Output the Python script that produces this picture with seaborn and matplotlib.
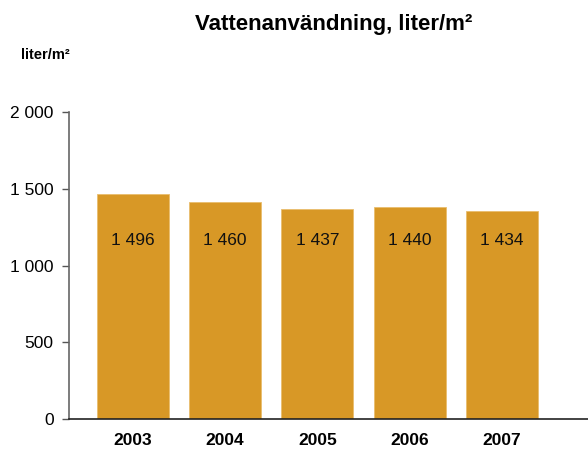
import matplotlib
matplotlib.use("Agg")
import matplotlib.pyplot as plt
import seaborn as sns
import pandas as pd

# data
years = ["2003", "2004", "2005", "2006", "2007"]
bar_heights = [1465, 1412, 1368, 1381, 1355]
value_labels = ["1 496", "1 460", "1 437", "1 440", "1 434"]
y_ticks = [0, 500, 1000, 1500, 2000]
y_tick_labels = ["0", "500", "1 000", "1 500", "2 000"]

df = pd.DataFrame({"year": years, "value": bar_heights})

sns.set_style("white")
plt.rcParams["font.family"] = ["Liberation Sans", "DejaVu Sans"]
plt.rcParams["text.color"] = "black"
plt.rcParams["xtick.color"] = "black"
plt.rcParams["ytick.color"] = "black"

fig = plt.figure(figsize=(5.88, 4.5), dpi=100)
ax = fig.add_axes([0.117, 0.069, 0.883, 0.682])

sns.barplot(data=df, x="year", y="value", color="#D89826", saturation=1,
            width=0.78, edgecolor="#E9BD6E", linewidth=0.6, ax=ax)

for i, lab in enumerate(value_labels):
    ax.text(i, 1165, lab, ha="center", va="center", fontsize=12.5, color="#111111")

ax.set_xlim(-0.69, 4.93)
ax.set_ylim(0, 2000)
ax.set_yticks(y_ticks)
ax.set_yticklabels(y_tick_labels, fontsize=12.5)
ax.set_xlabel("")
ax.set_ylabel("")
ax.tick_params(axis="y", direction="out", length=5, width=1, color="#555555",
               left=True, pad=6)
ax.tick_params(axis="x", length=0, pad=10, labelsize=12.5)
for lab in ax.get_xticklabels():
    lab.set_fontweight("bold")

ax.spines["top"].set_visible(False)
ax.spines["right"].set_visible(False)
ax.spines["left"].set_color("#666666")
ax.spines["bottom"].set_color("#222222")
ax.spines["left"].set_linewidth(1.2)
ax.spines["bottom"].set_linewidth(1.2)

fig.text(0.567, 0.945, "Vattenanvändning, liter/m²", ha="center", va="center",
         fontsize=16, fontweight="bold")
fig.text(0.077, 0.878, "liter/m²", ha="center", va="center", fontsize=10.5,
         fontweight="bold")

fig.savefig("out.png", dpi=100)
